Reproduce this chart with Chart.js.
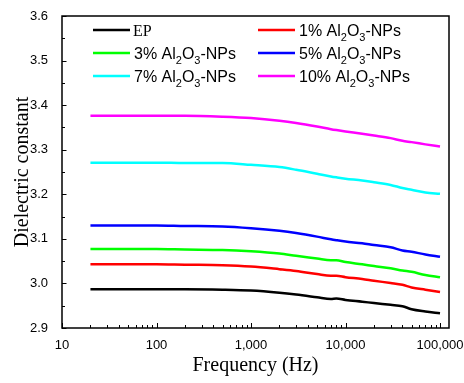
<!DOCTYPE html>
<html>
<head>
<meta charset="utf-8">
<style>
  html, body { margin: 0; padding: 0; background: #fff; }
  canvas { display: block; }
</style>
<script src="https://cdn.jsdelivr.net/npm/chart.js@4.4.1/dist/chart.umd.min.js"></script>
</head>
<body>
<canvas id="myChart" width="464" height="383"></canvas>
<script>
// frequencies (Hz) sampled along the curves
const freq = [20, 50, 100, 200, 500, 1000, 2000, 3000, 5000, 7000, 8000, 10000, 15000, 20000, 30000, 40000, 50000, 70000, 100000];

const seriesLabels = ['EP', '1% Al2O3-NPs', '3% Al2O3-NPs', '5% Al2O3-NPs', '7% Al2O3-NPs', '10% Al2O3-NPs'];
const seriesColors = ['#000000', '#ff0000', '#00ff00', '#0000ff', '#00ffff', '#ff00ff'];

const ep    = [2.987, 2.987, 2.987, 2.987, 2.986, 2.984, 2.979, 2.975, 2.969, 2.965, 2.966, 2.963, 2.959, 2.956, 2.952, 2.949, 2.942, 2.937, 2.933];
const al1   = [3.043, 3.043, 3.043, 3.042, 3.041, 3.038, 3.032, 3.028, 3.021, 3.017, 3.017, 3.014, 3.010, 3.006, 3.001, 2.997, 2.991, 2.986, 2.981];
const al3   = [3.077, 3.077, 3.077, 3.076, 3.075, 3.072, 3.067, 3.062, 3.056, 3.052, 3.052, 3.048, 3.043, 3.039, 3.034, 3.029, 3.026, 3.019, 3.014];
const al5   = [3.130, 3.130, 3.130, 3.129, 3.128, 3.124, 3.118, 3.113, 3.105, 3.099, 3.097, 3.094, 3.090, 3.086, 3.081, 3.074, 3.071, 3.065, 3.060];
const al7   = [3.271, 3.271, 3.271, 3.270, 3.270, 3.266, 3.261, 3.255, 3.246, 3.240, 3.238, 3.235, 3.231, 3.227, 3.221, 3.214, 3.210, 3.204, 3.201];
const al10  = [3.376, 3.376, 3.376, 3.376, 3.374, 3.371, 3.365, 3.360, 3.352, 3.346, 3.344, 3.341, 3.336, 3.332, 3.326, 3.320, 3.317, 3.312, 3.307];
const allSeries = [ep, al1, al3, al5, al7, al10];

const xTicks = [10, 100, 1000, 10000, 100000];
const yTicks = [2.9, 3.0, 3.1, 3.2, 3.3, 3.4, 3.5, 3.6];

function withCommas(v) {
  return String(Math.round(v)).replace(/\B(?=(\d{3})+(?!\d))/g, ',');
}

// box round the plot plus inward tick marks on left and bottom
const framePlugin = {
  id: 'frame',
  afterDraw(chart) {
    const { ctx, chartArea: a, scales } = chart;
    ctx.save();
    ctx.strokeStyle = '#000';
    ctx.lineWidth = 1;
    // y ticks
    yTicks.forEach((v, i) => {
      const y = Math.round(scales.y.getPixelForValue(v)) + 0.5;
      ctx.beginPath(); ctx.moveTo(a.left, y); ctx.lineTo(a.left + 4.5, y); ctx.stroke();
      if (i < yTicks.length - 1) {
        const ym = Math.round(scales.y.getPixelForValue(v + 0.05)) + 0.5;
        ctx.beginPath(); ctx.moveTo(a.left, ym); ctx.lineTo(a.left + 3, ym); ctx.stroke();
      }
    });
    // x ticks
    xTicks.forEach((v) => {
      const x = Math.round(scales.x.getPixelForValue(v)) + 0.5;
      ctx.beginPath(); ctx.moveTo(x, a.bottom); ctx.lineTo(x, a.bottom - 5); ctx.stroke();
      if (v < 100000) {
        for (let k = 2; k <= 9; k++) {
          const xm = Math.round(scales.x.getPixelForValue(v * k)) + 0.5;
          ctx.beginPath(); ctx.moveTo(xm, a.bottom); ctx.lineTo(xm, a.bottom - 3); ctx.stroke();
        }
      }
    });
    ctx.lineWidth = 1.5;
    ctx.strokeRect(a.left, a.top, a.right - a.left, a.bottom - a.top);
    ctx.restore();
  }
};

// draw "Al2O3" with subscript digits
function drawRich(ctx, text, x, y, size) {
  const parts = text.split(/(?<=[A-Za-z])(\d)/);
  let cx = x;
  parts.forEach((p, i) => {
    if (!p) return;
    const sub = i % 2 === 1;
    ctx.font = (sub ? 11 : size) + 'px "Liberation Sans", Arial, sans-serif';
    ctx.fillText(p, cx, sub ? y + 5 : y);
    cx += ctx.measureText(p).width;
  });
}

const legendPlugin = {
  id: 'twoColLegend',
  afterDraw(chart) {
    const { ctx, chartArea: a } = chart;
    ctx.save();
    ctx.textBaseline = 'alphabetic';
    ctx.fillStyle = '#000';
    chart.data.datasets.forEach((ds, i) => {
      const col = i % 2, row = Math.floor(i / 2);
      const lx = a.left + (col === 0 ? 31 : 196);
      const ly = a.top + 14 + row * 23;
      ctx.strokeStyle = ds.borderColor;
      ctx.lineWidth = 2.5;
      ctx.beginPath(); ctx.moveTo(lx, ly); ctx.lineTo(lx + 37, ly); ctx.stroke();
      ctx.fillStyle = '#000';
      if (ds.label === 'EP') {
        ctx.font = '16px "Liberation Serif", "Times New Roman", serif';
        ctx.fillText(ds.label, lx + 40, ly + 6);
      } else {
        drawRich(ctx, ds.label, lx + 41, ly + 6, 16);
      }
    });
    ctx.restore();
  }
};

const ctx = document.getElementById('myChart').getContext('2d');
const tickFont = { family: '"Liberation Sans", Arial, sans-serif', size: 13 };
const titleFont = { family: '"Liberation Serif", "Times New Roman", serif', size: 20 };

const chart = new Chart(ctx, {
  type: 'line',
  data: {
    datasets: allSeries.map((vals, i) => ({
      label: seriesLabels[i],
      data: freq.map((f, j) => ({ x: f, y: vals[j] })),
      borderColor: seriesColors[i],
      backgroundColor: seriesColors[i],
      borderWidth: 2.5,
      pointRadius: 0,
      cubicInterpolationMode: 'monotone',
      fill: false
    }))
  },
  options: {
    responsive: false,
    devicePixelRatio: 1,
    animation: false,
    layout: { padding: { left: 0, right: 15, top: 16, bottom: 0 } },
    plugins: {
      legend: { display: false },
      tooltip: { enabled: false }
    },
    scales: {
      x: {
        type: 'logarithmic',
        min: 10,
        max: 124500,
        grid: { display: false },
        border: { display: false },
        afterBuildTicks: (s) => { s.ticks = xTicks.map(v => ({ value: v })); },
        ticks: {
          font: tickFont, color: '#000', padding: 2,
          maxRotation: 0, autoSkip: false,
          callback: (v) => withCommas(v)
        },
        title: { display: true, text: 'Frequency (Hz)', font: titleFont, color: '#000', padding: { top: 0, bottom: 5 } },
        afterFit: (s) => { s.height = 55; s.paddingLeft = 0; s.paddingRight = 0; }
      },
      y: {
        min: 2.9,
        max: 3.6,
        grid: { display: false },
        border: { display: false },
        afterBuildTicks: (s) => { s.ticks = yTicks.map(v => ({ value: v })); },
        ticks: {
          font: tickFont, color: '#000', padding: 6,
          callback: (v) => v.toFixed(1)
        },
        title: { display: true, text: 'Dielectric constant', font: titleFont, color: '#000', padding: { top: 11, bottom: 0 } },
        afterFit: (s) => { s.width = 62; }
      }
    }
  },
  plugins: [framePlugin, legendPlugin]
});
</script>
</body>
</html>
